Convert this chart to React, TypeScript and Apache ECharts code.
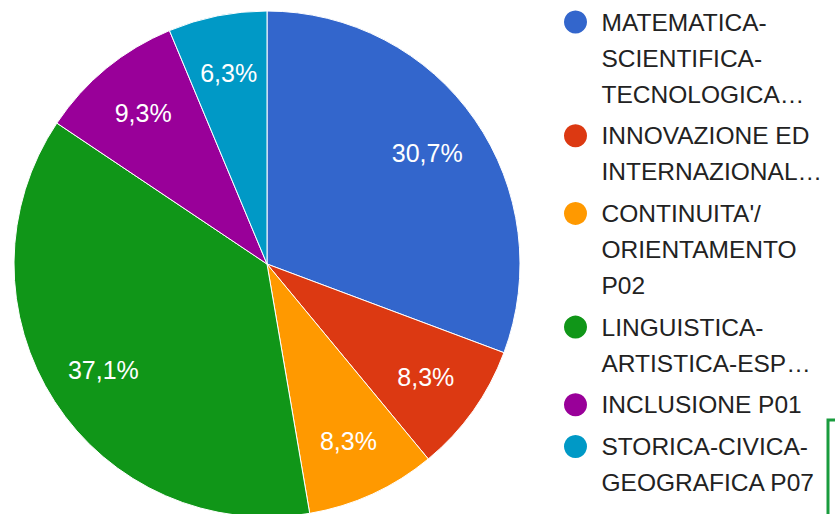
import React, { useEffect, useRef } from 'react';
import * as echarts from 'echarts';

const categories = [
  'MATEMATICA-SCIENTIFICA-TECNOLOGICA…',
  'INNOVAZIONE ED INTERNAZIONAL…',
  "CONTINUITA'/ ORIENTAMENTO P02",
  'LINGUISTICA-ARTISTICA-ESP…',
  'INCLUSIONE P01',
  'STORICA-CIVICA-GEOGRAFICA P07',
];
const legendLines = [
  ['MATEMATICA-', 'SCIENTIFICA-', 'TECNOLOGICA…'],
  ['INNOVAZIONE ED', 'INTERNAZIONAL…'],
  ["CONTINUITA'/", 'ORIENTAMENTO', 'P02'],
  ['LINGUISTICA-', 'ARTISTICA-ESP…'],
  ['INCLUSIONE P01'],
  ['STORICA-CIVICA-', 'GEOGRAFICA P07'],
];
const values = [30.7, 8.3, 8.3, 37.1, 9.3, 6.3];
const colors = ['#3366cc', '#dc3912', '#ff9900', '#109618', '#990099', '#0099c6'];

const CENTER: [number, number] = [267, 264];
const RADIUS = 253;
const LABEL_INNER = 131;
const LINE_H = 36;
const ITEM_GAP = 5.7;
const FIRST_CENTER = 22;

export default function App() {
  const ref = useRef<HTMLDivElement>(null);
  useEffect(() => {
    if (!ref.current) return;
    const chart = echarts.init(ref.current, undefined, { renderer: 'svg' });
    const data = categories.map((name, i) => ({ name, value: values[i] }));

    let c = FIRST_CENTER;
    const legends = legendLines.map((lines, i) => {
      const n = lines.length;
      const top = c - ((2 * n - 1) * LINE_H) / 2;
      c += n * LINE_H + ITEM_GAP;
      // leading blank lines keep the first line level with the icon
      const text = new Array(n - 1).fill('').concat(lines).join('\n');
      return {
        orient: 'vertical',
        left: 564,
        top,
        padding: 0,
        data: [categories[i]],
        icon: 'circle',
        itemWidth: 42,
        itemHeight: 23,
        selectedMode: false,
        itemStyle: { borderWidth: 0 },
        formatter: () => text,
        textStyle: {
          fontFamily: 'Liberation Sans',
          fontSize: 24.5,
          color: '#222222',
          lineHeight: LINE_H,
        },
      };
    });

    chart.setOption({
      animation: false,
      color: colors,
      backgroundColor: '#ffffff',
      legend: legends,
      graphic: [
        {
          type: 'polyline',
          shape: { points: [[835, 420], [828, 420], [828, 514]] },
          style: { stroke: '#1a9c3e', lineWidth: 3, fill: 'none' },
          silent: true,
        },
      ],
      series: [
        {
          type: 'pie',
          center: CENTER,
          radius: [0, RADIUS],
          startAngle: 90,
          clockwise: true,
          silent: true,
          data,
          label: { show: false },
          labelLine: { show: false },
          itemStyle: { borderColor: '#ffffff', borderWidth: 1 },
          emphasis: { disabled: true },
        },
        {
          type: 'pie',
          center: CENTER,
          radius: [LABEL_INNER, RADIUS],
          startAngle: 90,
          clockwise: true,
          silent: true,
          data,
          itemStyle: { color: 'transparent', borderWidth: 0 },
          labelLine: { show: false },
          label: {
            show: true,
            position: 'inside',
            color: '#ffffff',
            fontFamily: 'Liberation Sans',
            fontSize: 25,
            formatter: (p: any) => `${Number(p.value).toFixed(1).replace('.', ',')}%`,
          },
          emphasis: { disabled: true },
        },
      ],
    });
    return () => chart.dispose();
  }, []);
  return (
    <div
      ref={ref}
      style={{ position: 'absolute', left: 0, top: 0, width: 835, height: 514 }}
    />
  );
}
